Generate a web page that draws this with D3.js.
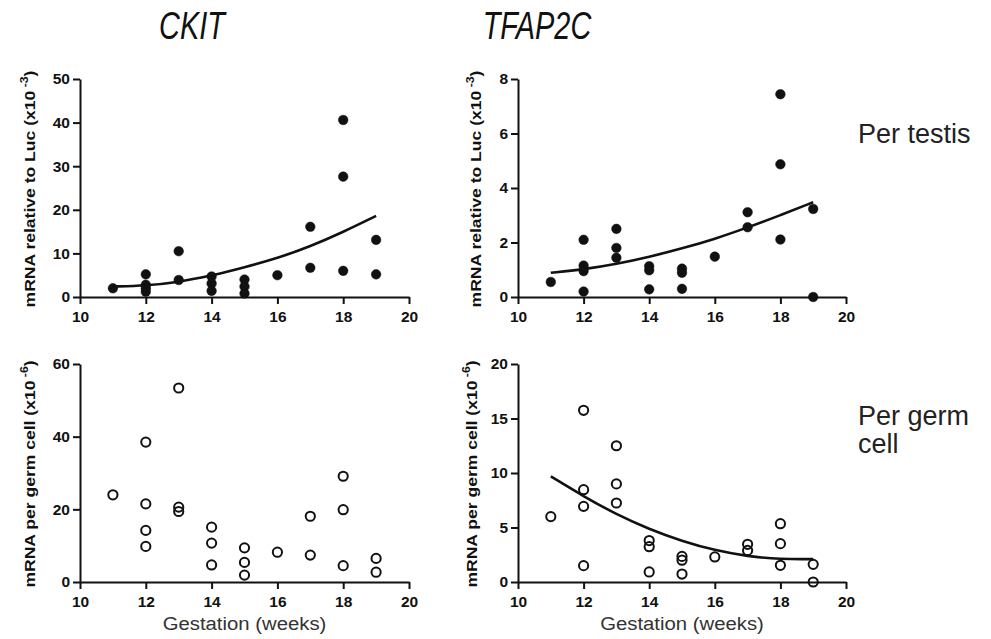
<!DOCTYPE html>
<html lang="en">
<head>
    <meta charset="UTF-8">
    <title>CKIT and TFAP2C expression</title>
    <script src="https://d3js.org/d3.v7.min.js"></script>
    <style>
        body { margin: 0; background: #fff; font-family: "Liberation Sans", Arial, sans-serif; }
        .tick line, .domain { stroke: #111; stroke-width: 2; }
        .ylab { font-size: 15px; font-weight: bold; fill: #111; }
        .xlab { font-size: 19px; fill: #333; }
        .title { font-size: 38px; font-style: italic; fill: #111; }
        .side { font-size: 27px; fill: #222; }
    </style>
</head>
<body>
<svg id="chart" width="991" height="639"></svg>
<script>
// gestation week, value
const ckitTestis = [
    [11, 2.0],
    [12, 5.2], [12, 2.8], [12, 2.0], [12, 1.2],
    [13, 10.5], [13, 3.9],
    [14, 4.7], [14, 3.1], [14, 1.4],
    [15, 4.0], [15, 2.4], [15, 0.8],
    [16, 5.0],
    [17, 16.1], [17, 6.7],
    [18, 40.6], [18, 27.6], [18, 6.0],
    [19, 13.1], [19, 5.2]
];
const tfap2cTestis = [
    [11, 0.55],
    [12, 2.1], [12, 1.15], [12, 0.95], [12, 0.2],
    [13, 2.5], [13, 1.8], [13, 1.44],
    [14, 1.13], [14, 0.98], [14, 0.28],
    [15, 1.04], [15, 0.89], [15, 0.3],
    [16, 1.48],
    [17, 3.11], [17, 2.56],
    [18, 7.44], [18, 4.87], [18, 2.11],
    [19, 3.23], [19, 0.0]
];
const ckitGerm = [
    [11, 24.0],
    [12, 38.5], [12, 21.5], [12, 14.2], [12, 9.8],
    [13, 53.4], [13, 20.6], [13, 19.4],
    [14, 15.1], [14, 10.7], [14, 4.7],
    [15, 9.4], [15, 5.4], [15, 1.9],
    [16, 8.2],
    [17, 18.1], [17, 7.4],
    [18, 29.1], [18, 19.9], [18, 4.5],
    [19, 6.5], [19, 2.7]
];
const tfap2cGerm = [
    [11, 6.0],
    [12, 15.75], [12, 8.47], [12, 6.94], [12, 1.5],
    [13, 12.5], [13, 9.0], [13, 7.25],
    [14, 3.8], [14, 3.24], [14, 0.92],
    [15, 2.35], [15, 2.0], [15, 0.73],
    [16, 2.3],
    [17, 3.46], [17, 2.9],
    [18, 5.35], [18, 3.52], [18, 1.53],
    [19, 1.62], [19, 0.0]
];

// fitted curves
const ckitTestisFit = [[11, 2.4], [12, 2.6], [13, 3.4], [14, 4.9], [15, 6.8], [16, 8.9], [17, 11.6], [18, 14.9], [19, 18.6]];
const tfap2cTestisFit = [[11, 0.89], [12, 1.01], [13, 1.21], [14, 1.47], [15, 1.78], [16, 2.13], [17, 2.55], [18, 3.0], [19, 3.48]];
const tfap2cGermFit = [[11, 9.69], [12, 7.86], [13, 6.2], [14, 4.85], [15, 3.75], [16, 2.9], [17, 2.35], [18, 2.08], [19, 2.1]];

const weekTicks = [10, 12, 14, 16, 18, 20];
const ckitTestisTicks = [0, 10, 20, 30, 40, 50];
const tfap2cTestisTicks = [0, 2, 4, 6, 8];
const ckitGermTicks = [0, 20, 40, 60];
const tfap2cGermTicks = [0, 5, 10, 15, 20];

const genes = ["CKIT", "TFAP2C"];
const rowLabels = [["Per testis"], ["Per germ", "cell"]];
const testisLabel = ["mRNA relative to Luc (x10", " -3", ")"];
const germLabel = ["mRNA per germ cell (x10", " -6", ")"];
const xTitle = "Gestation (weeks)";

const svg = d3.select("#chart");

const panels = [
    { data: ckitTestis, fit: ckitTestisFit, ticks: ckitTestisTicks, filled: true, left: 80, right: 409, bottom: 297, top: 79, ylab: testisLabel, ylabX: 35, xlab: false },
    { data: tfap2cTestis, fit: tfap2cTestisFit, ticks: tfap2cTestisTicks, filled: true, left: 518, right: 846, bottom: 297, top: 79, ylab: testisLabel, ylabX: 481, xlab: false },
    { data: ckitGerm, fit: null, ticks: ckitGermTicks, filled: false, left: 80, right: 409, bottom: 582, top: 364, ylab: germLabel, ylabX: 35, xlab: true },
    { data: tfap2cGerm, fit: tfap2cGermFit, ticks: tfap2cGermTicks, filled: false, left: 518, right: 846, bottom: 582, top: 364, ylab: germLabel, ylabX: 477, xlab: true }
];

function styleTicks(g) {
    g.selectAll("text")
        .attr("font-size", 15.5)
        .attr("font-weight", "bold")
        .attr("font-family", "'Liberation Sans', Arial, sans-serif")
        .attr("fill", "#111");
}

panels.forEach(p => {
    const x = d3.scaleLinear().domain([10, 20]).range([p.left, p.right]);
    const y = d3.scaleLinear().domain([0, d3.max(p.ticks)]).range([p.bottom, p.top]);

    svg.append("g")
        .attr("transform", `translate(0,${p.bottom})`)
        .call(d3.axisBottom(x).tickValues(weekTicks).tickSize(7).tickSizeOuter(0).tickPadding(7))
        .call(styleTicks);

    svg.append("g")
        .attr("transform", `translate(${p.left},0)`)
        .call(d3.axisLeft(y).tickValues(p.ticks).tickSize(7).tickSizeOuter(0).tickPadding(3))
        .call(styleTicks);

    if (p.fit) {
        svg.append("path")
            .datum(p.fit)
            .attr("d", d3.line().x(d => x(d[0])).y(d => y(d[1])).curve(d3.curveBasis))
            .attr("fill", "none")
            .attr("stroke", "#111")
            .attr("stroke-width", 2.6);
    }

    svg.append("g").selectAll("circle")
        .data(p.data)
        .join("circle")
        .attr("cx", d => x(d[0]))
        .attr("cy", d => y(d[1]))
        .attr("r", p.filled ? 4.8 : 4.6)
        .attr("fill", p.filled ? "#111" : "none")
        .attr("stroke", "#111")
        .attr("stroke-width", p.filled ? 0.5 : 2);

    // rotated y label, stretched along its baseline like the original
    const ym = (p.top + p.bottom) / 2 + 1;
    const t = svg.append("text")
        .attr("class", "ylab")
        .attr("text-anchor", "middle")
        .attr("transform", `translate(${p.ylabX},${ym}) rotate(-90) scale(1.17,1)`);
    t.append("tspan").text(p.ylab[0]);
    t.append("tspan").attr("font-size", "10.5px").attr("dy", -7).text(p.ylab[1]);
    t.append("tspan").attr("dy", 7).text(p.ylab[2]);

    if (p.xlab) {
        const cx = (p.left + p.right) / 2;
        svg.append("text")
            .attr("class", "xlab")
            .attr("text-anchor", "middle")
            .attr("transform", `translate(${cx},630) scale(1.07,1)`)
            .text(xTitle);
    }
});

// gene titles
const titleX = [192, 537];
genes.forEach((g, i) => {
    svg.append("text")
        .attr("class", "title")
        .attr("text-anchor", "middle")
        .attr("transform", `translate(${titleX[i]},39) scale(0.76,1)`)
        .text(g);
});

// row labels on the right
const rowY = [143, 425];
rowLabels.forEach((lines, i) => {
    lines.forEach((s, j) => {
        svg.append("text")
            .attr("class", "side")
            .attr("x", 858)
            .attr("y", rowY[i] + j * 28)
            .text(s);
    });
});
</script>
</body>
</html>
